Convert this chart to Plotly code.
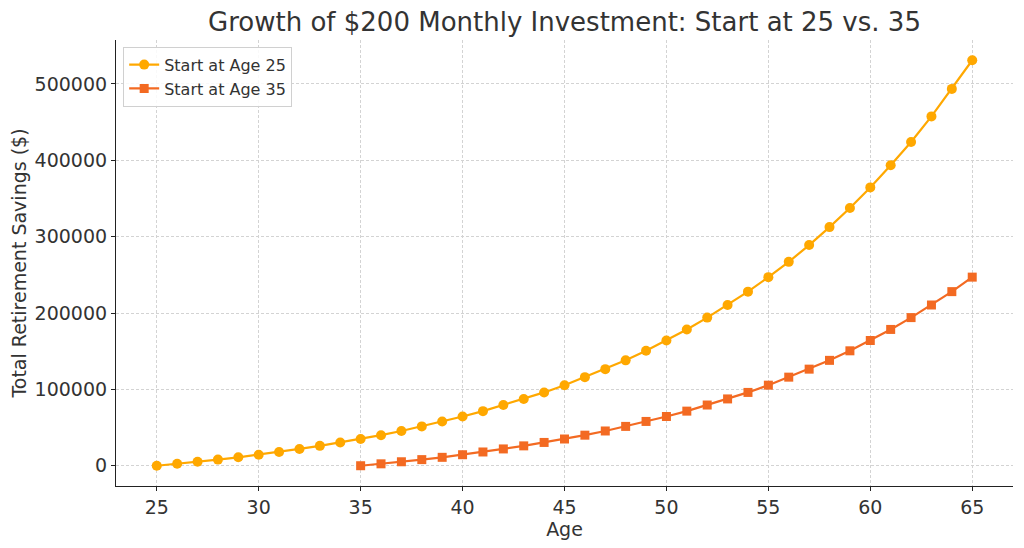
import plotly.graph_objects as go

ages_25 = list(range(25, 66))
savings_25 = [0, 2500, 5200, 8000, 11000, 14400, 18000, 22000, 26000, 30500,
              35000, 40000, 45500, 51500, 58000, 64500, 71500, 79500, 87500, 96000,
              105500, 116000, 126500, 138000, 150500, 164000, 178500, 194000, 210500, 228000,
              247000, 267000, 289000, 312500, 337500, 364500, 393500, 424000, 457500, 493500,
              531000]

ages_35 = list(range(35, 66))
savings_35 = [0, 2500, 5200, 8000, 11000, 14400, 18000, 22000, 26000, 30500,
              35000, 40000, 45500, 51500, 58000, 64500, 71500, 79500, 87500, 96000,
              105500, 116000, 126500, 138000, 150500, 164000, 178500, 194000, 210500, 228000,
              247000]

x_ticks = [25, 30, 35, 40, 45, 50, 55, 60, 65]
y_ticks = [0, 100000, 200000, 300000, 400000, 500000]

font = "DejaVu Sans, Liberation Sans, sans-serif"
txt = "#333333"

fig = go.Figure()
fig.add_trace(go.Scatter(
    x=ages_25, y=savings_25, mode="lines+markers", name="Start at Age 25",
    line=dict(color="#FFA800", width=2.2),
    marker=dict(symbol="circle", size=10, color="#FFA800"),
))
fig.add_trace(go.Scatter(
    x=ages_35, y=savings_35, mode="lines+markers", name="Start at Age 35",
    line=dict(color="#F36A22", width=2.2),
    marker=dict(symbol="square", size=9, color="#F36A22"),
))

axis_common = dict(
    showgrid=True, gridcolor="#D3D3D3", griddash="3px,2px", gridwidth=1,
    showline=True, linecolor="#222222", linewidth=1.2,
    ticks="outside", ticklen=4, tickcolor="#222222",
    tickfont=dict(family=font, size=19, color=txt),
    zeroline=False, automargin=False,
)

fig.update_layout(
    width=1016, height=540,
    paper_bgcolor="white", plot_bgcolor="white",
    margin=dict(l=108, r=11, t=32, b=62),
    title=dict(text="Growth of $200 Monthly Investment: Start at 25 vs. 35",
               font=dict(family=font, size=26, color=txt),
               x=0.5, xanchor="center", xref="paper",
               yref="container", y=1 - 14 / 540, yanchor="middle"),
    font=dict(family=font, color=txt),
    legend=dict(x=0.008, y=0.985, xanchor="left", yanchor="top",
                bgcolor="rgba(255,255,255,0.85)", bordercolor="#D0D0D0", borderwidth=1,
                font=dict(family=font, size=16, color=txt)),
    showlegend=True,
)
fig.update_xaxes(**axis_common, range=[23, 67], tickvals=x_ticks,
                 title=dict(text="Age", font=dict(family=font, size=19, color=txt), standoff=2))
fig.update_yaxes(**axis_common, range=[-26550, 557550], tickvals=y_ticks,
                 ticktext=[str(v) for v in y_ticks],
                 title=dict(text="Total Retirement Savings ($)", font=dict(family=font, size=19, color=txt), standoff=6))

fig.write_html("out.html")
